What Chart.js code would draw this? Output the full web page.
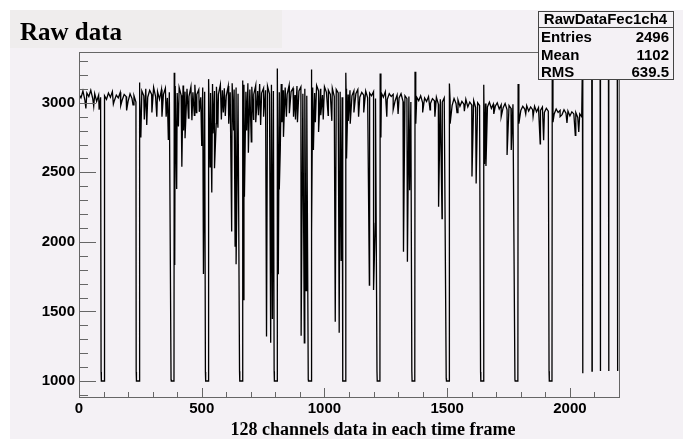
<!DOCTYPE html>
<html lang="en">
<head>
    <meta charset="UTF-8">
    <title>Raw data</title>
    <script src="https://cdn.jsdelivr.net/npm/chart.js"></script>
    <style>
        body { margin: 0; background: #ffffff; }
    </style>
</head>
<body>
    <canvas id="rawChart" width="683" height="439"></canvas>
    <script>
        // baseline ADC value, one sample every 8 channels (null = inside a frame header pulse)
        const baseStep = 8;
        const adcBase = [
            3060,3035,3085,3020,3070,3045,3090,3030,3065,3010,3055,3040,null,3050,3025,3070,
            3040,3080,3015,3055,3035,3075,3020,3060,3045,3010,3065,3030,3050,3005,null,3070,
            3085,3050,3100,3040,3090,3060,3110,3045,3080,3025,3095,3060,3105,3035,3075,null,
            null,3120,3070,3110,3055,3125,3080,3100,3045,3115,3075,3130,3060,3095,3040,3110,
            3080,null,3125,3070,3135,3085,3115,3060,3130,3090,3105,3050,3120,3075,3140,3095,
            3110,3065,null,null,3130,3080,3140,3095,3115,3060,3125,3085,3135,3070,3105,3090,
            3120,3065,3130,3085,null,3115,3075,3135,3090,3110,3060,3125,3080,3105,3055,3120,
            3085,3115,3065,3100,3050,null,null,3110,3070,3125,3085,3100,3055,3115,3075,3090,
            3060,3105,3045,3095,3070,3080,3040,null,3100,3060,3090,3050,3085,3065,3095,3040,
            3075,3055,3085,3035,3070,3050,3080,3030,null,null,3070,3040,3080,3025,3065,3045,
            3060,3015,3055,3035,3065,3010,3050,3030,3045,3005,null,null,3040,3015,3050,3000,
            3035,3010,3045,2995,3030,3015,3040,2990,3025,3005,3035,null,null,3015,2980,3030,
            2995,3020,2975,3010,2990,3025,2970,3005,2985,3015,2965,3000,2980,null,null,2995,
            2970,3005,2960,2990,2975,3000,2955,2985,2965,2995,2950,2980,2960,2990,null,null,
            2985,2945,2975,2955,2980,2940,2970,2950,2975,2935,2965,2945,2970,2930,2960,2940,
            null,2950,2920,2955,2930,2945,2915,2950,2925,2940,2905,2935,2920,2930,2895,2920,
            2900
        ];

        // frame header pulses (start channel, edge value, floor value)
        const pulseWidth = 12;
        const pulseChannel = [90, 233, 375, 515, 654, 795, 934, 1074, 1214, 1356, 1496, 1636, 1776, 1915];
        const pulseEdgeAdc = [1065, 1065, 1010, 1065, 1070, 1070, 1010, 1070, 1070, 1070, 1020, 1065, 1010, 1070];
        const pulseFloorAdc = [1000, 1000, 1000, 1000, 1000, 1000, 1000, 1000, 1000, 1000, 1000, 1000, 1000, 1000];

        // overshoot right after each pulse
        const spikeChannel = [246, 388, 528, 667, 808, 947, 1087, 1227, 1369, 1509, 1649, 1789, 1928];
        const spikeAdc = [3145, 3215, 3170, 3160, 3247, 3240, 3215, 3211, 3223, 3139, 3130, 3135, 3200];

        // single channel dips
        const dipChannel = [
            28, 60, 82,
            140, 170, 194, 220,
            252, 266, 276, 297, 317, 338, 355, 364,
            390, 398, 405, 419, 426, 432, 446, 460, 470, 478, 490, 500, 507,
            534, 541, 546, 552, 559, 566, 580, 588, 596, 610, 622, 630, 636, 640, 646,
            669, 674, 683, 690, 702, 711, 720, 731, 740, 752, 764, 781, 788,
            812, 816, 820, 827, 833, 845, 857, 874, 882, 890, 905, 918, 925,
            948, 955, 963, 976, 985, 995, 1015, 1030, 1044, 1060, 1068,
            1090, 1097, 1105, 1120, 1139, 1160, 1183, 1200, 1207,
            1230, 1254, 1280, 1300, 1322, 1338, 1347,
            1372, 1400, 1430, 1450, 1465, 1479,
            1512, 1540, 1570, 1601, 1618,
            1652, 1658, 1690, 1720, 1744, 1761,
            1792, 1820, 1850, 1879, 1893,
            1931, 1960, 1988, 2022, 2036
        ];
        const dipAdc = [
            2960, 2975, 2950,
            2990, 2980, 2945, 2985,
            2750, 2880, 2840, 2930, 2900, 2900, 2900, 2732,
            1833, 2380, 2830, 2540, 2800, 2745, 2890, 2875, 2910, 2930, 2935, 2690, 1770,
            2540, 2355, 2780, 2530, 2850, 2820, 2880, 2930, 2905, 2850, 2075, 2800, 1965, 1840, 2700,
            1585, 2325, 2800, 2640, 2720, 2880, 2860, 2910, 2840, 2900, 1320, 1275, 1445,
            1767, 2376, 2660, 2860, 2755, 2900, 2925, 2900, 2880, 2860, 1325, 1275, 1650,
            2066, 2660, 2860, 2790, 2910, 2880, 2910, 2870, 1426, 1347, 1862,
            2600, 2870, 2850, 2930, 2900, 2930, 1690, 1654, 2133,
            2750, 2900, 2950, 2920, 1929, 1857, 2372,
            2850, 2930, 2950, 2900, 2252, 2168,
            2850, 2930, 2940, 2470, 2420,
            2560, 2545, 2920, 2900, 2625, 2660,
            2850, 2920, 2900, 2705, 2730,
            2860, 2900, 2855, 2765, 2790
        ];

        // channels past the last frame: high (hidden under the stats box), brief drops
        const tailTopAdc = 3300;
        const tailChannel = [2052, 2090, 2124, 2158, 2194];
        const tailAdc = [1055, 1072, 1072, 1072, 1072];

        const statsRows = [['Entries', '2496'], ['Mean', '1102'], ['RMS', '639.5']];

        function inPulse(x) {
            return pulseChannel.some(p => x >= p && x <= p + pulseWidth + 1);
        }

        var points = [];
        adcBase.forEach((v, i) => {
            const x = i * baseStep;
            if (v !== null && !inPulse(x)) points.push({x: x, y: v});
        });
        pulseChannel.forEach((p, i) => {
            points.push({x: p, y: pulseEdgeAdc[i]});
            points.push({x: p + 1, y: pulseFloorAdc[i]});
            points.push({x: p + pulseWidth, y: pulseFloorAdc[i]});
        });
        spikeChannel.forEach((c, i) => points.push({x: c, y: spikeAdc[i]}));
        dipChannel.forEach((c, i) => points.push({x: c, y: dipAdc[i]}));
        tailChannel.forEach((c, i) => {
            points.push({x: c - 1, y: tailTopAdc});
            points.push({x: c, y: tailAdc[i]});
            points.push({x: c + 1, y: tailTopAdc});
        });
        points.sort((a, b) => a.x - b.x);

        const SANS = "'Liberation Sans', Arial, sans-serif";
        const SERIF = "'Liberation Serif', 'Times New Roman', serif";
        const PAD = '#f4f1f5';

        // ROOT-like pad: background, frame, inward ticks, title, stats box
        const rootPad = {
            id: 'rootPad',
            beforeDraw(chart) {
                const c = chart.ctx;
                c.save();
                c.fillStyle = '#ffffff';
                c.fillRect(0, 0, chart.width, chart.height);
                c.fillStyle = PAD;
                c.fillRect(10, 10, chart.width - 10, chart.height - 10);
                c.fillStyle = '#efeded';
                c.fillRect(10, 10, 272, 38);
                c.restore();
            },
            afterDraw(chart) {
                const c = chart.ctx;
                const a = chart.chartArea;
                const xs = chart.scales.x, ys = chart.scales.y;
                c.save();
                c.strokeStyle = '#666666';
                c.lineWidth = 1;
                c.strokeRect(Math.round(a.left) + 0.5, Math.round(a.top) + 0.5,
                    Math.round(a.right - a.left), Math.round(a.bottom - a.top));
                c.beginPath();
                for (let v = 900; v <= 3300; v += 100) {
                    const y = Math.round(ys.getPixelForValue(v)) + 0.5;
                    c.moveTo(a.left, y);
                    c.lineTo(a.left + (v % 500 === 0 ? 17 : 9), y);
                }
                for (let v = 0; v <= 2100; v += 100) {
                    const x = Math.round(xs.getPixelForValue(v)) + 0.5;
                    c.moveTo(x, a.bottom);
                    c.lineTo(x, a.bottom - (v % 500 === 0 ? 9 : 5));
                }
                c.stroke();

                // title
                c.fillStyle = '#000';
                c.font = 'bold 25px ' + SERIF;
                c.textBaseline = 'alphabetic';
                c.textAlign = 'left';
                c.fillText('Raw data', 20, 40);

                // x axis title
                c.font = 'bold 18px ' + SERIF;
                c.textAlign = 'center';
                c.fillText('128 channels data in each time frame', 373, 435);

                // stats box
                c.fillStyle = PAD;
                c.fillRect(538, 11, 135, 68);
                c.strokeStyle = '#444';
                c.strokeRect(538.5, 11.5, 135, 68);
                c.beginPath();
                c.moveTo(538, 27.5);
                c.lineTo(673, 27.5);
                c.stroke();
                c.fillStyle = '#000';
                c.font = 'bold 15px ' + SANS;
                c.textAlign = 'center';
                c.fillText('RawDataFec1ch4', 605.5, 24);
                statsRows.forEach((r, i) => {
                    const y = 42 + i * 17.5;
                    c.textAlign = 'left';
                    c.fillText(r[0], 541, y);
                    c.textAlign = 'right';
                    c.fillText(r[1], 669, y);
                });
                c.restore();
            }
        };

        var ctx = document.getElementById('rawChart').getContext('2d');
        var chart = new Chart(ctx, {
            type: 'line',
            data: {
                datasets: [{
                    label: 'RawDataFec1ch4',
                    data: points,
                    borderColor: '#000000',
                    borderWidth: 1.3,
                    pointRadius: 0,
                    tension: 0,
                    fill: false
                }]
            },
            options: {
                responsive: false,
                animation: false,
                layout: { padding: { top: 52, right: 64, left: 0, bottom: 0 } },
                plugins: {
                    legend: { display: false },
                    tooltip: { enabled: false }
                },
                scales: {
                    x: {
                        type: 'linear',
                        min: 0,
                        max: 2200,
                        afterFit: s => { s.height = 42; },
                        grid: { display: false, drawTicks: false },
                        border: { display: false },
                        ticks: {
                            stepSize: 100,
                            autoSkip: false,
                            maxRotation: 0,
                            padding: 3,
                            color: '#000',
                            font: { family: SANS, size: 15, weight: 'bold' },
                            callback: v => (v % 500 === 0 ? v : '')
                        }
                    },
                    y: {
                        min: 885,
                        max: 3365,
                        afterFit: s => { s.width = 79; },
                        grid: { display: false, drawTicks: false },
                        border: { display: false },
                        ticks: {
                            stepSize: 100,
                            autoSkip: false,
                            padding: 4,
                            color: '#000',
                            font: { family: SANS, size: 15, weight: 'bold' },
                            callback: v => (v % 500 === 0 ? v : '')
                        }
                    }
                }
            },
            plugins: [rootPad]
        });
    </script>
</body>
</html>
